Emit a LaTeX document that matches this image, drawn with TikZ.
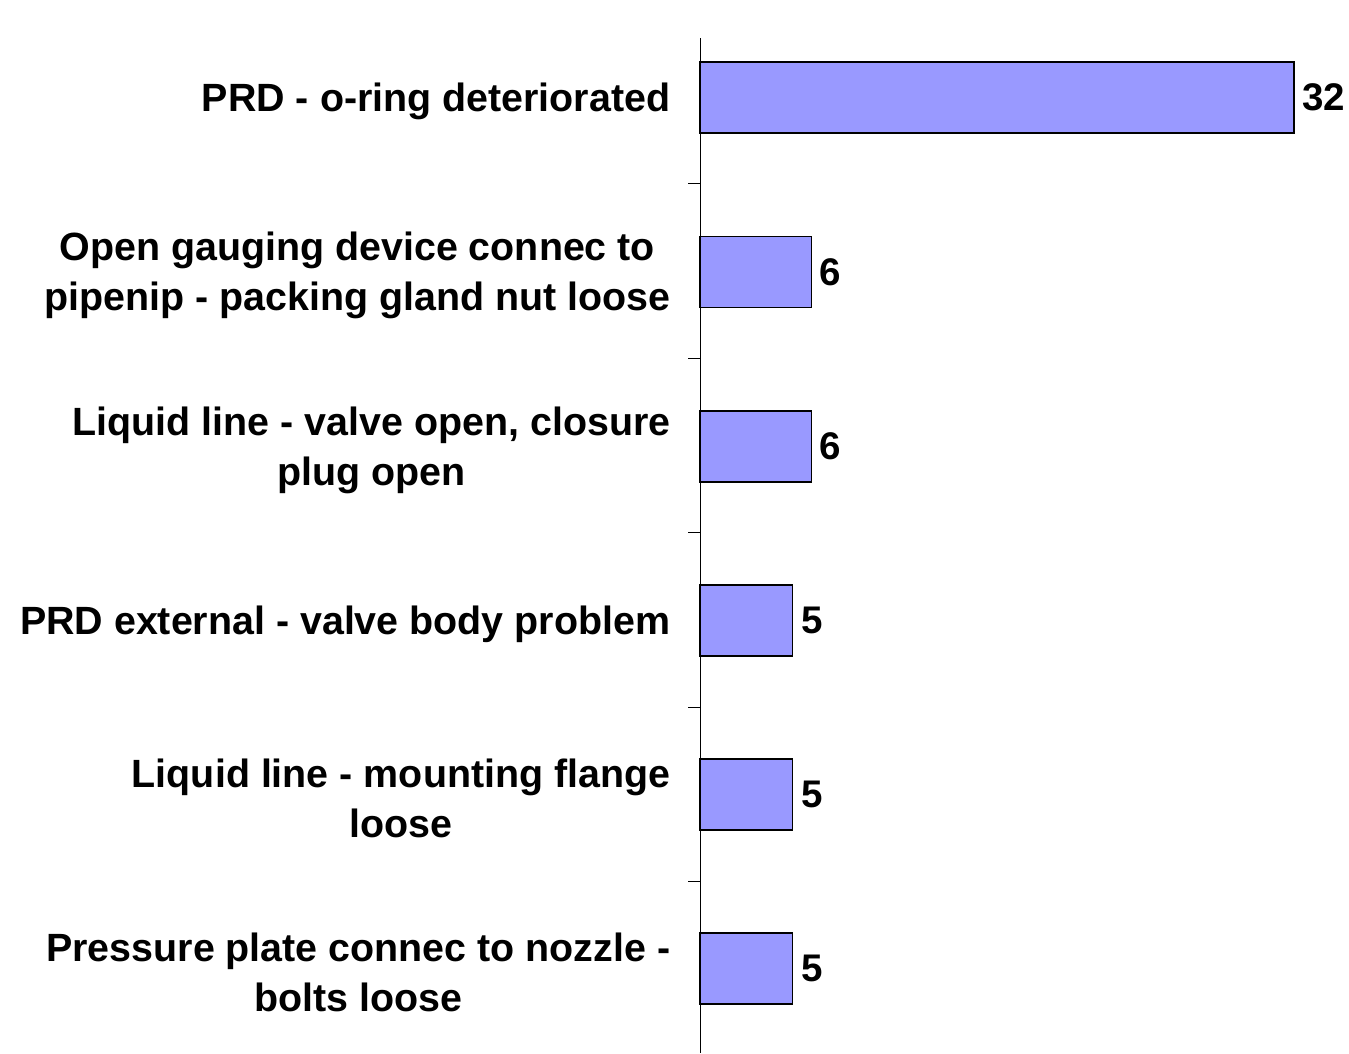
\documentclass[tikz,border=0pt]{standalone}
\usepackage{fontspec}
\setmainfont{Liberation Sans}
\definecolor{barfill}{HTML}{9999FF}
\begin{document}
\begin{tikzpicture}[x=1pt,y=-1pt,
  bar/.style={draw=black,line width=1.3pt,fill=barfill},
  cat/.style={anchor=east,align=center,inner sep=0pt,font=\fontsize{39.4}{50}\selectfont\bfseries},
  val/.style={anchor=west,inner sep=0pt,font=\fontsize{38.5}{45}\selectfont\bfseries},
  axis/.style={line width=1pt,black}]
\useasboundingbox (0,0) rectangle (1349,1053);
\def\u{18.56}
% axis
\coordinate (atop) at (700,38);
\coordinate (abot) at (700,1053);
\draw[axis] (atop) -- (abot);
\foreach \t in {183.5,358,532.5,707,881.5}{
  \draw[axis] (688,\t) -- (700,\t);
}
% bars
\foreach \i/\v/\yc in {1/32/97.5,2/6/272,3/6/446.5,4/5/620.5,5/5/794.5,6/5/968.5}{
  \draw[bar] (700,\yc-35.5) rectangle (700+\v*\u,\yc+35.5);
  \node[val] (v\i) at (700+\v*\u+8,\yc) {\v};
}
% category labels
\node[cat] (c1) at (670.5,101) {PRD - o-ring deteriorated};
\node[cat] (c2) at (670.5,275.5) {Open gauging device connec to\\pipenip - packing gland nut loose};
\node[cat] (c3) at (670.5,450) {Liquid line - valve open, closure\\plug open};
\node[cat] (c4) at (670.5,624) {PRD external - valve body problem};
\node[cat] (c5) at (670.5,798) {Liquid line - mounting flange\\loose};
\node[cat] (c6) at (670.5,972) {Pressure plate connec to nozzle -\\bolts loose};
\end{tikzpicture}
\end{document}
